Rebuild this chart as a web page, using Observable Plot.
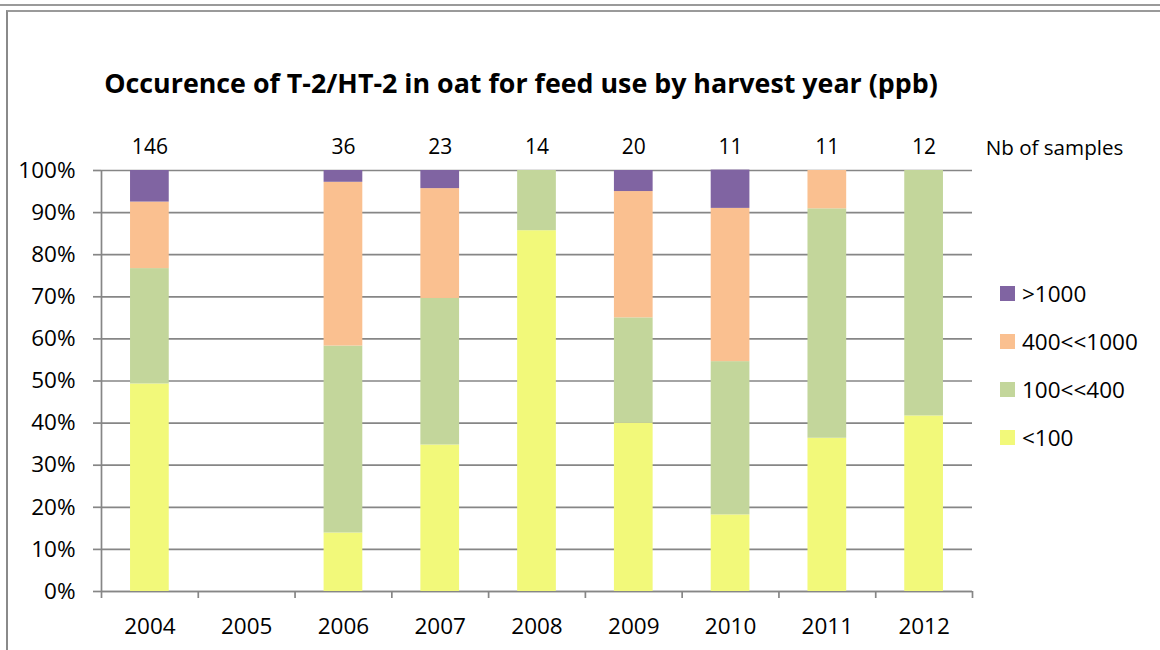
<!DOCTYPE html>
<html>
<head>
<meta charset="utf-8">
<script src="https://cdn.jsdelivr.net/npm/d3@7"></script>
<script src="https://cdn.jsdelivr.net/npm/@observablehq/plot@0.6"></script>
<style>
  html, body { margin: 0; padding: 0; background: #fff; }
  body { width: 1160px; height: 650px; position: relative; overflow: hidden; font-family: "Open Sans", sans-serif; }
  .line1 { position: absolute; top: 4px; left: 0; width: 1160px; border-top: 2px solid #9a9a9a; }
  .frame { position: absolute; top: 10px; left: 6px; width: 1160px; height: 650px; border-top: 2px solid #9a9a9a; border-left: 2px solid #8a8a8a; }
  #title { position: absolute; top: 70px; left: 0; width: 1042px; text-align: center; font-weight: bold; font-size: 26.8px; line-height: 1; color: #000; white-space: nowrap; }
  #chart { position: absolute; top: 120px; left: 0; }
  #legend { position: absolute; left: 1000px; top: 269px; }
  .item { display: flex; align-items: center; height: 48px; font-size: 22.5px; color: #000; }
  .sw { width: 15px; height: 15px; margin-right: 7px; }
</style>
</head>
<body>
<div class="line1"></div>
<div class="frame"></div>
<div id="title">Occurence of T-2/HT-2 in oat for feed use by harvest year (ppb)</div>
<div id="chart"></div>
<div id="legend"></div>
<script>
const years = [2004, 2005, 2006, 2007, 2008, 2009, 2010, 2011, 2012];
const sampleCounts = [146, null, 36, 23, 14, 20, 11, 11, 12];
const categories = ["<100", "100<<400", "400<<1000", ">1000"];
const colors = ["#F2F97A", "#C3D69B", "#FAC090", "#8064A2"];
// share of samples (%) per class, bottom to top
const lt100      = [49.3, 0, 13.9, 34.8, 85.7, 40.0, 18.2, 36.4, 41.7];
const r100to400  = [27.4, 0, 44.4, 34.8, 14.3, 25.0, 36.4, 54.5, 58.3];
const r400to1000 = [15.8, 0, 38.9, 26.1,  0.0, 30.0, 36.4,  9.1,  0.0];
const gt1000     = [ 7.5, 0,  2.8,  4.3,  0.0,  5.0,  9.1,  0.0,  0.0];
const yTicks = [0, 0.1, 0.2, 0.3, 0.4, 0.5, 0.6, 0.7, 0.8, 0.9, 1.0];

const series = [lt100, r100to400, r400to1000, gt1000];
const rows = [];
years.forEach((yr, i) => {
  let acc = 0;
  series.forEach((s, k) => {
    const v = s[i] / 100;
    if (v > 0) rows.push({year: yr, cat: categories[k], y1: acc, y2: acc + v});
    acc += v;
  });
});
const countRows = years.map((yr, i) => ({year: yr, n: sampleCounts[i]})).filter(d => d.n != null);
const boundaries = d3.range(years[0] - 0.5, years[years.length - 1] + 1, 1);
const gray = "#868686";

const chart = Plot.plot({
  width: 1160,
  height: 530,
  marginTop: 50,
  marginBottom: 59,
  marginLeft: 101,
  marginRight: 188,
  style: {fontFamily: "'Open Sans', sans-serif", background: "transparent", overflow: "visible"},
  x: {domain: [boundaries[0], boundaries[boundaries.length - 1]], axis: null},
  y: {domain: [0, 1], axis: null},
  color: {domain: categories, range: colors},
  marks: [
    Plot.gridY(yTicks, {stroke: gray, strokeOpacity: 1, strokeWidth: 1.7}),
    Plot.ruleX([boundaries[0]], {stroke: gray, strokeWidth: 1.7}),
    Plot.ruleY([0], {stroke: gray, strokeWidth: 1.7}),
    Plot.rectY(rows, {x1: d => d.year - 0.2, x2: d => d.year + 0.2, y1: "y1", y2: "y2", fill: "cat"}),
    Plot.axisY({ticks: yTicks, tickFormat: d3.format(".0%"), tickSize: 8, tickPadding: 18, fontSize: 22.5, stroke: gray, strokeWidth: 1.7, fill: "#000", label: null}),
    Plot.axisX({ticks: boundaries, tickSize: 7, tickFormat: () => "", stroke: gray, strokeWidth: 1.7, label: null}),
    Plot.axisX({ticks: years, tickSize: 0, tickPadding: 27, tickFormat: d => String(d), fontSize: 22.5, fill: "#000", label: null}),
    Plot.text(countRows, {x: "year", y: () => 1, text: d => String(d.n), dy: -23, fontSize: 21, fill: "#000"}),
    Plot.text(["Nb of samples"], {frameAnchor: "top-right", lineAnchor: "middle", text: d => d, dx: 82, dy: -22, textAnchor: "middle", fontSize: 20.6, fill: "#000"})
  ]
});
document.getElementById("chart").appendChild(chart);

const legend = document.getElementById("legend");
[3, 2, 1, 0].forEach(k => {
  const item = document.createElement("div");
  item.className = "item";
  const sw = document.createElement("div");
  sw.className = "sw";
  sw.style.background = colors[k];
  const label = document.createElement("span");
  label.textContent = categories[k];
  item.appendChild(sw);
  item.appendChild(label);
  legend.appendChild(item);
});
</script>
</body>
</html>
